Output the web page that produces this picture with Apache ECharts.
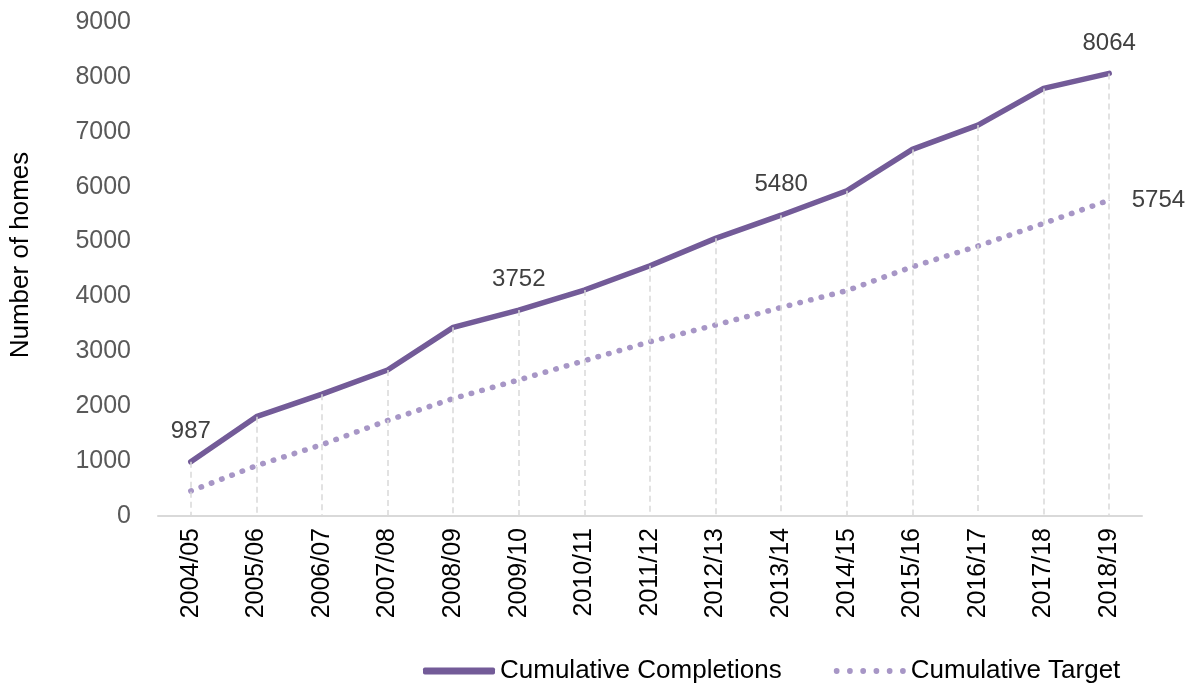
<!DOCTYPE html>
<html>
<head>
<meta charset="utf-8">
<script src="https://cdn.jsdelivr.net/npm/echarts@6/dist/echarts.min.js"></script>
<style>
html,body{margin:0;padding:0;background:#fff;}
#chart{width:1194px;height:688px;}
</style>
</head>
<body>
<div id="chart"></div>
<script>
const categories = ['2004/05','2005/06','2006/07','2007/08','2008/09','2009/10','2010/11','2011/12','2012/13','2013/14','2014/15','2015/16','2016/17','2017/18','2018/19'];
const completions = [987, 1810, 2220, 2660, 3437, 3752, 4117, 4560, 5058, 5480, 5926, 6679, 7122, 7790, 8064];
const target = [455, 917, 1300, 1740, 2140, 2480, 2830, 3175, 3480, 3800, 4105, 4541, 4918, 5331, 5754];
const completionsLabelIdx = [0, 5, 9, 14];
const targetLabelIdx = [14];
const yTicks = {min: 0, max: 9000, interval: 1000};

const FONT = '"Liberation Sans", Arial, sans-serif';
const C_COMP = '#735b98';
const C_TARG = '#a796c6';
const chart = echarts.init(document.getElementById('chart'));

const dropLines = categories.map((c, i) => [
  {coord: [c, completions[i]]},
  {coord: [c, 0]}
]);

let dots = '';
for (let k = 0; k < 6; k++) {
  const cx = 1 + k * 4.6;
  dots += 'M' + (cx - 1) + ',1a1,1 0 1,0 2,0a1,1 0 1,0 -2,0Z';
}

chart.setOption({
  animation: false,
  textStyle: {fontFamily: FONT},
  grid: {left: 155, right: 52, top: 22, bottom: 172, containLabel: false},
  legend: {
    left: 418, top: 653,
    itemGap: 52,
    itemWidth: 72, itemHeight: 7,
    textStyle: {fontSize: 26, color: '#000', fontFamily: FONT},
    data: [
      {name: 'Cumulative Completions', icon: 'roundRect', itemStyle: {color: C_COMP}},
      {name: 'Cumulative Target', icon: 'path://' + dots, itemStyle: {color: C_TARG}}
    ]
  },
  xAxis: {
    type: 'category',
    data: categories,
    boundaryGap: true,
    axisLine: {lineStyle: {color: '#d9d9d9', width: 2}},
    axisTick: {show: false},
    axisLabel: {rotate: 90, fontSize: 25, color: '#000', margin: 12, interval: 0, fontFamily: FONT}
  },
  yAxis: {
    type: 'value',
    min: yTicks.min, max: yTicks.max, interval: yTicks.interval,
    name: 'Number of homes',
    nameLocation: 'middle',
    nameRotate: 90,
    nameGap: 124,
    nameTextStyle: {fontSize: 26, color: '#000', fontFamily: FONT, padding: [0, 0, 0, 28]},
    axisLine: {show: false},
    axisTick: {show: false},
    splitLine: {show: false},
    axisLabel: {fontSize: 25, color: '#595959', margin: 27, fontFamily: FONT, formatter: v => String(v)}
  },
  series: [
    {
      name: 'drop',
      type: 'line',
      data: [],
      z: 1,
      silent: true,
      markLine: {
        silent: true,
        symbol: ['none', 'none'],
        label: {show: false},
        lineStyle: {color: '#d9d9d9', type: [6, 4], width: 1.5},
        emphasis: {disabled: true},
        data: dropLines
      }
    },
    {
      name: 'Cumulative Target',
      type: 'line',
      data: target,
      z: 2,
      symbol: 'circle',
      symbolSize: 1,
      showSymbol: true,
      lineStyle: {color: C_TARG, width: 5.5, type: [0.5, 10.5], cap: 'round'},
      itemStyle: {color: C_TARG},
      label: {
        show: true,
        position: 'right',
        distance: 22,
        fontSize: 24,
        color: '#404040',
        formatter: p => targetLabelIdx.includes(p.dataIndex) ? String(p.value) : ''
      }
    },
    {
      name: 'Cumulative Completions',
      type: 'line',
      data: completions,
      z: 3,
      symbol: 'circle',
      symbolSize: 1,
      showSymbol: true,
      lineStyle: {color: C_COMP, width: 5.5, cap: 'round'},
      itemStyle: {color: C_COMP},
      label: {
        show: true,
        position: 'top',
        distance: 18,
        fontSize: 24,
        color: '#404040',
        formatter: p => completionsLabelIdx.includes(p.dataIndex) ? String(p.value) : ''
      }
    }
  ]
});
</script>
</body>
</html>
